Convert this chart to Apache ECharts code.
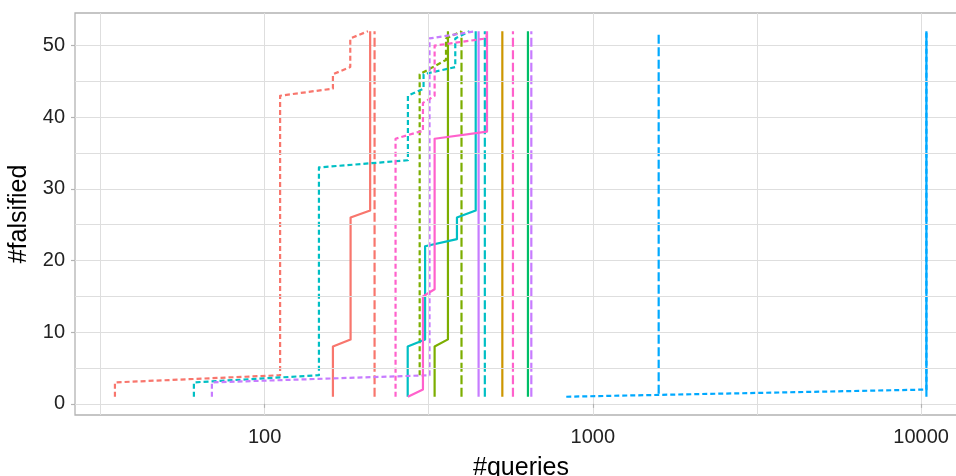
<!DOCTYPE html>
<html>
<head>
<meta charset="utf-8">
<script src="https://cdn.jsdelivr.net/npm/echarts@6.0.0/dist/echarts.min.js"></script>
<style>
  html, body { margin: 0; padding: 0; background: #fff; }
  #chart { width: 956px; height: 476px; }
</style>
</head>
<body>
<div id="chart"></div>
<script>
// 每条线: [#queries, #falsified]
var redSolid     = [[161.5,1],[161.5,8],[182.8,9],[182.8,26],[209.7,27],[209.7,52]];
var redDashed    = [[216.3,1],[216.3,52]];
var redDotted    = [[35,1],[35,3],[111.5,4],[111.5,43],[161.5,44],[161.5,46],[182.4,47],[182.4,51],[206.5,52]];
var goldSolid    = [[530,1],[530,52]];
var greenSolid   = [[329.6,1],[329.6,8],[361.9,9],[361.9,52]];
var greenDashed  = [[398,1],[398,52]];
var greenDotted  = [[296.8,4],[296.8,46],[357,48],[357,51],[398,52]];
var green2Solid  = [[634.3,1],[634.3,52]];
var cyanSolid    = [[272.9,1],[272.9,8],[308.3,9],[308.3,22],[385.5,23],[385.5,26],[439.7,27],[439.7,52]];
var cyanDashed   = [[468.8,1],[468.8,52]];
var cyanDotted   = [[60.9,1],[60.9,3],[146.4,4],[146.4,33],[273.3,34],[273.3,43],[305,44],[305,46],[381,47],[381,51],[421,52]];
var blueSolid    = [[10380,1],[10380,52]];
var blueDashed   = [[1587,1.4],[1587,52]];
var blueDotted   = [[830,1],[10380,2],[10380,52]];
var purpleSolid  = [[448.7,1],[448.7,52]];
var purpleDashed = [[649.5,1],[649.5,52]];
var purpleDotted = [[69.1,1],[69.1,3],[318,4],[318,51],[440,52]];
var pinkSolid    = [[273.3,1],[303.7,2],[303.7,15],[329.6,16],[329.6,37],[476,38],[476,52]];
var pinkDashed   = [[571,1],[571,52]];
var pinkDotted   = [[250.6,1],[250.6,37],[296.8,38],[303.7,38],[303.7,42],[329.6,43],[329.6,50],[473.7,51],[476,52]];

var xTicks = [100, 1000, 10000];
var xMinorTicks = [31.62, 316.2, 3162];
var yTicks = [0, 10, 20, 30, 40, 50];
var yMinorTicks = [5, 15, 25, 35, 45];

var colors = {
    red: '#F8766D', gold: '#CD9600', green: '#7CAE00', green2: '#00BE67',
    cyan: '#00BFC4', blue: '#00A9FF', purple: '#C77CFF', pink: '#FF61CC'
};
var dashes = { solid: 'solid', dashed: [9, 3.5], dotted: [5, 3] };

var lines = [
    ['red', 'solid', redSolid], ['red', 'dashed', redDashed], ['red', 'dotted', redDotted],
    ['gold', 'solid', goldSolid],
    ['green', 'solid', greenSolid], ['green', 'dashed', greenDashed], ['green', 'dotted', greenDotted],
    ['green2', 'solid', green2Solid],
    ['cyan', 'solid', cyanSolid], ['cyan', 'dashed', cyanDashed], ['cyan', 'dotted', cyanDotted],
    ['blue', 'solid', blueSolid], ['blue', 'dashed', blueDashed], ['blue', 'dotted', blueDotted],
    ['purple', 'solid', purpleSolid], ['purple', 'dashed', purpleDashed], ['purple', 'dotted', purpleDotted],
    ['pink', 'solid', pinkSolid], ['pink', 'dashed', pinkDashed], ['pink', 'dotted', pinkDotted]
];

var gridColor = '#DEDEDE';
var font = '"Liberation Sans", Arial, Helvetica, sans-serif';

var series = [{
    // 次网格线
    type: 'line',
    data: [],
    silent: true,
    z: 1,
    markLine: {
        silent: true,
        symbol: 'none',
        label: { show: false },
        animation: false,
        lineStyle: { color: gridColor, width: 1, type: 'solid' },
        emphasis: { disabled: true },
        data: xMinorTicks.map(function (v) { return { xAxis: v }; })
            .concat(yMinorTicks.map(function (v) { return { yAxis: v }; }))
    }
}];
lines.forEach(function (l) {
    series.push({
        type: 'line',
        data: l[2],
        showSymbol: false,
        symbol: 'none',
        z: 3,
        lineStyle: { color: colors[l[0]], width: 2.2, type: dashes[l[1]], join: 'round' }
    });
});

var chart = echarts.init(document.getElementById('chart'));
chart.setOption({
    animation: false,
    grid: {
        left: 75, top: 13, right: -11, bottom: 61,
        show: true, borderColor: '#B3B3B3', borderWidth: 1.3,
        containLabel: false, outerBoundsMode: 'none'
    },
    xAxis: {
        type: 'log',
        logBase: 10,
        min: 26.45,
        max: 13800,
        name: '#queries',
        nameLocation: 'middle',
        nameGap: 41,
        nameTextStyle: { fontSize: 25, color: '#000', fontFamily: font },
        axisLine: { show: false },
        axisTick: { show: true, length: 4, customValues: xTicks, lineStyle: { color: '#B3B3B3', width: 1.2 } },
        axisLabel: {
            customValues: xTicks, fontSize: 20, color: '#222', fontFamily: font, margin: 12,
            formatter: function (v) { return String(Math.round(v)); }
        },
        splitLine: { show: true, lineStyle: { color: gridColor, width: 1 } },
        minorTick: { show: false },
        minorSplitLine: { show: false }
    },
    yAxis: {
        type: 'value',
        min: -1.55,
        max: 54.55,
        name: '#falsified',
        nameLocation: 'middle',
        nameGap: 39,
        nameTextStyle: { fontSize: 25, color: '#000', fontFamily: font },
        axisLine: { show: false },
        axisTick: { show: true, length: 4, customValues: yTicks, lineStyle: { color: '#B3B3B3', width: 1.2 } },
        axisLabel: {
            customValues: yTicks, fontSize: 20, color: '#222', fontFamily: font, margin: 10,
            formatter: function (v) { return String(Math.round(v)); }
        },
        splitLine: { show: true, lineStyle: { color: gridColor, width: 1 } }
    },
    series: series
});
</script>
</body>
</html>
